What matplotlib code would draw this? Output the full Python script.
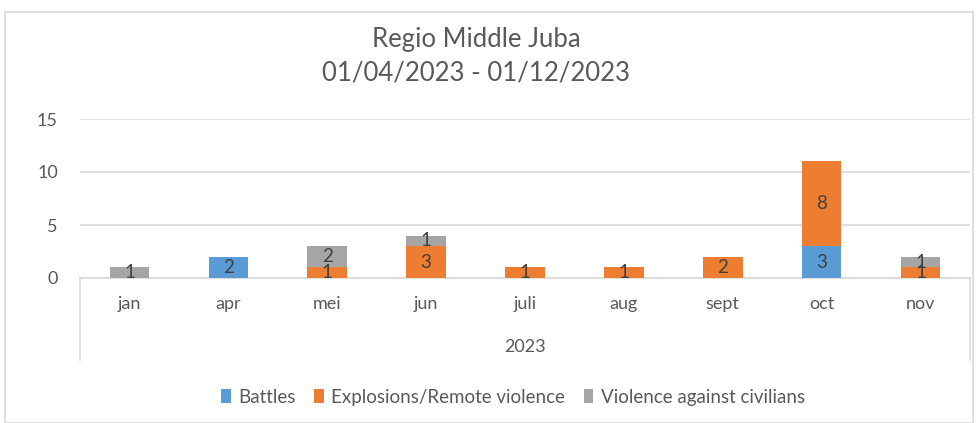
import matplotlib.pyplot as plt
import numpy as np
from matplotlib.patches import Rectangle

months = ["jan", "apr", "mei", "jun", "juli", "aug", "sept", "oct", "nov"]
battles = [0, 2, 0, 0, 0, 0, 0, 3, 0]
explosions = [0, 0, 1, 3, 1, 1, 2, 8, 1]
violence = [1, 0, 2, 1, 0, 0, 0, 0, 1]
series_names = ["Battles", "Explosions/Remote violence", "Violence against civilians"]
colors = ["#5B9BD5", "#ED7D31", "#A5A5A5"]

plt.rcParams['font.family'] = ['Lato', 'DejaVu Sans']
txt = "#595959"

W, H = 978, 423
fig = plt.figure(figsize=(W / 100, H / 100), dpi=100)
fig.patches.append(Rectangle((5 / W, 0), 968 / W, 1 - 12 / H, transform=fig.transFigure,
                             fill=False, edgecolor="#D9D9D9", lw=1.2))

x0, x1, ytop, ybot = 80, 970, 119, 278
ax = fig.add_axes([x0 / W, 1 - ybot / H, (x1 - x0) / W, (ybot - ytop) / H])

x = np.arange(len(months))
bottom = np.zeros(len(months))
for vals, name, c in zip([battles, explosions, violence], series_names, colors):
    vals = np.array(vals, dtype=float)
    ax.bar(x, vals, 0.4, bottom=bottom, color=c, label=name, zorder=3)
    for xi, b, v in zip(x, bottom, vals):
        if v > 0:
            ax.text(xi, b + v / 2, f"{int(v)}", ha="center", va="center",
                    fontsize=13.5, color="#404040", zorder=4)
    bottom += vals

ax.set_xlim(-0.5, len(months) - 0.5)
ax.set_ylim(0, 15)
ax.set_yticks([0, 5, 10, 15])
ax.grid(axis="y", color="#D9D9D9", lw=1.2, zorder=0)
for s in ["top", "right", "left"]:
    ax.spines[s].set_visible(False)
ax.spines["bottom"].set_color("#D9D9D9")
ax.spines["bottom"].set_linewidth(1.2)
ax.tick_params(axis="y", length=0, labelsize=13, labelcolor=txt, pad=16)
ax.tick_params(axis="x", length=0, labelsize=13, labelcolor=txt, pad=13)
ax.set_xticks(x)
ax.set_xticklabels(months)

# multi-level category box below the axis
depth = (360 - ybot) / (ybot - ytop)
for xa in (0, 1):
    ax.plot([xa, xa], [0, -depth], transform=ax.transAxes, color="#D9D9D9",
            lw=1.2, clip_on=False)
ax.text(0.5, -(347 - ybot) / (ybot - ytop), "2023", transform=ax.transAxes,
        ha="center", va="center", fontsize=13, color=txt)

fig.text(476 / W, 1 - 40 / H, "Regio Middle Juba", ha="center", va="center",
         fontsize=18.5, color=txt)
fig.text(476 / W, 1 - 73 / H, "01/04/2023 - 01/12/2023", ha="center", va="center",
         fontsize=18.5, color=txt)

fig.legend(loc="center", bbox_to_anchor=(513 / W, 1 - 397 / H), ncol=3, frameon=False,
           fontsize=13.5, labelcolor=txt, handlelength=0.5, handleheight=0.8,
           handletextpad=0.4, columnspacing=1.0)

fig.savefig("out.png", dpi=100)
